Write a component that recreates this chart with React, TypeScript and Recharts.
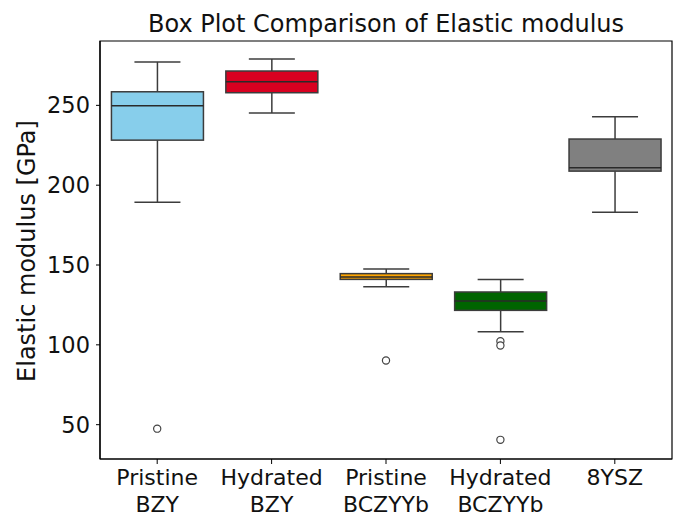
import React from "react";
import {
  Bar,
  ComposedChart,
  ReferenceArea,
  Scatter,
  XAxis,
  YAxis,
} from "recharts";

const categories = [
  "Pristine\nBZY",
  "Hydrated\nBZY",
  "Pristine\nBCZYYb",
  "Hydrated\nBCZYYb",
  "8YSZ",
];
const whiskerLow = [189.3, 245.2, 136.4, 108.2, 183.0];
const q1 = [228.2, 257.9, 141.0, 121.6, 208.8];
const median = [249.8, 264.8, 142.5, 127.4, 210.9];
const q3 = [258.5, 271.5, 144.6, 133.1, 228.9];
const whiskerHigh = [277.2, 279.0, 147.5, 141.0, 242.9];
const outliers = [[47.5], [], [90.2], [102.3, 99.6, 40.5], []];
const boxColors = ["#87ceeb", "#d90020", "#ffa500", "#006400", "#808080"];
const yTicks = [50, 100, 150, 200, 250];
const yDomain = [28.5, 290.3];

const FONT = "'DejaVu Sans', sans-serif";

const boxData = categories.map((name, i) => ({
  name,
  range: [whiskerLow[i], whiskerHigh[i]],
  q1: q1[i],
  median: median[i],
  q3: q3[i],
  color: boxColors[i],
}));

const outlierData = categories.flatMap((name, i) =>
  outliers[i].map((value) => ({ name, value }))
);

function BoxShape(props: any) {
  const { x, y, width, height, payload } = props;
  const top = Math.min(y, y + height);
  const bottom = Math.max(y, y + height);
  const [lo, hi] = payload.range;
  const py = (v: number) => bottom - ((v - lo) / (hi - lo)) * (bottom - top);
  const cx = x + width / 2;
  const cap = width / 4;
  const edge = "#3c3c3c";
  return (
    <g>
      <line x1={cx} x2={cx} y1={top} y2={py(payload.q3)} stroke={edge} strokeWidth={1.5} />
      <line x1={cx} x2={cx} y1={py(payload.q1)} y2={bottom} stroke={edge} strokeWidth={1.5} />
      <line x1={cx - cap} x2={cx + cap} y1={top} y2={top} stroke={edge} strokeWidth={1.5} />
      <line x1={cx - cap} x2={cx + cap} y1={bottom} y2={bottom} stroke={edge} strokeWidth={1.5} />
      <rect
        x={x}
        y={py(payload.q3)}
        width={width}
        height={py(payload.q1) - py(payload.q3)}
        fill={payload.color}
        stroke={edge}
        strokeWidth={1.5}
      />
      <line
        x1={x}
        x2={x + width}
        y1={py(payload.median)}
        y2={py(payload.median)}
        stroke="#2a2a2a"
        strokeWidth={1.5}
      />
    </g>
  );
}

function OutlierDot(props: any) {
  const { cx, cy } = props;
  return <circle cx={cx} cy={cy} r={3.6} fill="#fff" stroke="#444" strokeWidth={1.2} />;
}

function XTick(props: any) {
  const { x, y, payload } = props;
  const lines = String(payload.value).split("\n");
  return (
    <text x={x} y={y} textAnchor="middle" fontFamily={FONT} fontSize={22} fill="#111">
      {lines.map((l, i) => (
        <tspan key={i} x={x} y={y + 19 + i * 26.5}>
          {l}
        </tspan>
      ))}
    </text>
  );
}

export default function App() {
  return (
    <div style={{ position: "relative", width: 676, height: 515, background: "#fff" }}>
      <style>{"body{margin:0}"}</style>
      <div
        style={{
          position: "absolute",
          left: 100,
          width: 572,
          top: 11.7,
          textAlign: "center",
          fontFamily: FONT,
          fontSize: 24,
          lineHeight: "24px",
          color: "#111",
          whiteSpace: "nowrap",
        }}
      >
        Box Plot Comparison of Elastic modulus
      </div>
      <div
        style={{
          position: "absolute",
          left: 26.7,
          top: 251,
          transform: "translate(-50%, -50%) rotate(-90deg)",
          fontFamily: FONT,
          fontSize: 24,
          lineHeight: "24px",
          color: "#111",
          whiteSpace: "nowrap",
        }}
      >
        Elastic modulus [GPa]
      </div>
      <ComposedChart
        width={676}
        height={515}
        data={boxData}
        margin={{ top: 41, right: 4, left: 40, bottom: 4 }}
        barCategoryGap="10%"
      >
        <XAxis
          dataKey="name"
          type="category"
          height={52}
          tick={<XTick />}
          tickSize={5}
          tickMargin={2}
          axisLine={{ stroke: "#000", strokeWidth: 1.2 }}
          tickLine={{ stroke: "#000" }}
          interval={0}
          allowDuplicatedCategory={false}
        />
        <YAxis
          type="number"
          width={60}
          domain={yDomain}
          ticks={yTicks}
          allowDataOverflow
          tickSize={4}
          tickMargin={6}
          tick={{ fontFamily: FONT, fontSize: 22.5, fill: "#111" }}
          axisLine={{ stroke: "#000", strokeWidth: 1.2 }}
          tickLine={{ stroke: "#000" }}
        />
        <ReferenceArea
          y1={yDomain[0]}
          y2={yDomain[1]}
          fill="none"
          stroke="#000"
          strokeWidth={1.2}
          ifOverflow="visible"
        />
        <Bar dataKey="range" shape={<BoxShape />} isAnimationActive={false} />
        <Scatter
          data={outlierData}
          dataKey="value"
          shape={<OutlierDot />}
          isAnimationActive={false}
        />
      </ComposedChart>
    </div>
  );
}
